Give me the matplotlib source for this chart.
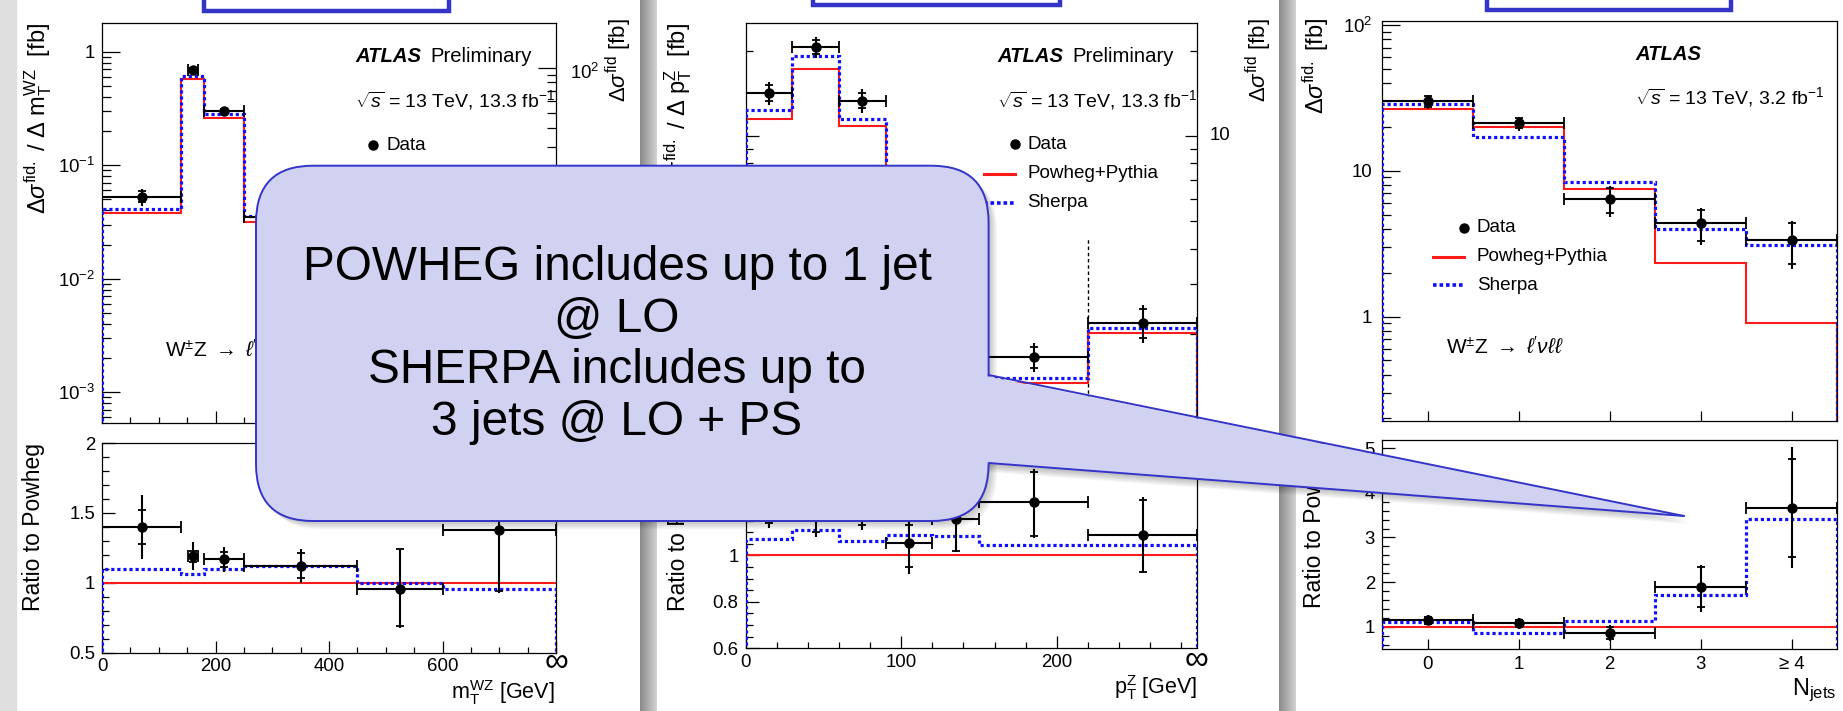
import numpy as np
import matplotlib
matplotlib.use("Agg")
import matplotlib.pyplot as plt
from matplotlib.patches import FancyBboxPatch, Polygon, Rectangle
from matplotlib.colors import LinearSegmentedColormap
from matplotlib.ticker import MultipleLocator, FixedLocator, FixedFormatter, NullFormatter, LogLocator

plt.rcParams['font.family'] = ['Liberation Sans', 'DejaVu Sans']
plt.rcParams['mathtext.fontset'] = 'custom'
plt.rcParams['mathtext.rm'] = 'Liberation Sans'
plt.rcParams['mathtext.it'] = 'Liberation Sans:italic'
plt.rcParams['mathtext.bf'] = 'Liberation Sans:bold'

#-------------------------------------------------------------------------------
# DATA : m_T^WZ
mt_edges = [0, 140, 180, 250, 450, 600, 800]
mt_x = [70, 160, 215, 350, 525, 700]
mt_xerr = [70, 9, 35, 100, 75, 100]
mt_data = [0.0528, 0.690, 0.300, 0.0352, 0.0059, 0.00124]
mt_data_hi = [0.0615, 0.738, 0.325, 0.0390, 0.0073, 0.0016]
mt_data_lo = [0.0440, 0.647, 0.278, 0.0316, 0.0041, 0.0008]
mt_stat_hi = [0.0590, 0.720, 0.315, 0.0380, 0.0072, 0.0015]
mt_stat_lo = [0.0470, 0.660, 0.285, 0.0330, 0.0042, 0.0009]
mt_powheg = [0.0377, 0.578, 0.259, 0.0318, 0.0062, 0.0009]
mt_sherpa = [0.0415, 0.613, 0.283, 0.0356, 0.0062, 0.00086]
mt_ratio = [1.40, 1.19, 1.167, 1.12, 0.957, 1.376]
mt_ratio_hi = [1.626, 1.29, 1.253, 1.245, 1.245, 1.82]
mt_ratio_lo = [1.167, 1.09, 1.079, 0.996, 0.68, 0.93]
mt_rstat_hi = [1.52, 1.23, 1.22, 1.21, 1.24, 1.75]
mt_rstat_lo = [1.276, 1.15, 1.11, 1.035, 0.69, 0.94]
mt_ratio_sherpa = [1.10, 1.06, 1.10, 1.12, 1.0, 0.953]

# DATA : p_T^Z
pt_edges = [0, 30, 60, 90, 120, 150, 220, 290]
pt_x = [15, 45, 75, 105, 135, 185, 255]
pt_xerr = [15, 15, 15, 15, 15, 35, 35]
pt_data = [14.2, 20.6, 13.3, 5.8, 3.2, 1.66, 2.18]
pt_data_hi = [15.5, 22.4, 14.6, 6.55, 3.6, 1.86, 2.52]
pt_data_lo = [12.9, 18.8, 12.0, 5.06, 2.82, 1.47, 1.86]
pt_stat_hi = [15.1, 21.8, 14.2, 6.3, 3.5, 1.80, 2.45]
pt_stat_lo = [13.3, 19.4, 12.5, 5.5, 2.9, 1.52, 1.93]
pt_powheg = [11.5, 17.2, 10.8, 5.5, 2.8, 1.34, 2.01]
pt_sherpa = [12.3, 19.1, 11.5, 5.97, 3.03, 1.40, 2.10]
pt_ratio = [1.235, 1.198, 1.232, 1.052, 1.155, 1.23, 1.09]
pt_ratio_hi = [1.36, 1.31, 1.35, 1.19, 1.29, 1.37, 1.25]
pt_ratio_lo = [1.12, 1.08, 1.11, 0.918, 1.014, 1.076, 0.925]
pt_rstat_hi = [1.33, 1.28, 1.32, 1.13, 1.26, 1.36, 1.24]
pt_rstat_lo = [1.14, 1.10, 1.13, 0.951, 1.02, 1.085, 0.93]
pt_ratio_sherpa = [1.072, 1.109, 1.062, 1.086, 1.083, 1.045, 1.045]
pt_overflow_line = 4.36

# DATA : N_jets
nj_edges = [-0.5, 0.5, 1.5, 2.5, 3.5, 4.5]
nj_x = [0, 1, 2, 3, 4]
nj_xerr = [0.5, 0.5, 0.5, 0.5, 0.5]
nj_labels = ['0', '1', '2', '3', '≥ 4']
nj_data = [30.1, 21.4, 6.4, 4.4, 3.36]
nj_data_hi = [33.3, 23.5, 7.87, 5.56, 4.5]
nj_data_lo = [26.7, 18.8, 4.8, 3.08, 2.11]
nj_stat_hi = [32.5, 23.0, 7.6, 5.4, 4.35]
nj_stat_lo = [27.5, 19.6, 5.1, 3.3, 2.3]
nj_powheg = [26.4, 19.9, 7.47, 2.32, 0.90]
nj_sherpa = [28.9, 17.1, 8.34, 3.97, 3.08]
nj_ratio = [1.14, 1.075, 0.86, 1.88, 3.67]
nj_ratio_hi = [1.26, 1.19, 1.04, 2.39, 5.03]
nj_ratio_lo = [1.04, 0.95, 0.68, 1.34, 2.31]
nj_rstat_hi = [1.22, 1.15, 1.0, 2.33, 4.76]
nj_rstat_lo = [1.07, 0.99, 0.72, 1.45, 2.57]
nj_ratio_sherpa = [1.095, 0.86, 1.117, 1.71, 3.42]
#-------------------------------------------------------------------------------

W, H = 1843, 711
RED = '#ff1a1a'
BLUE = '#1010ff'
FRAME = '#3434c8'
TICK = 13.4


def rect(x0, y0, x1, y1):
    return [x0 / W, 1 - y1 / H, (x1 - x0) / W, (y1 - y0) / H]


def style(ax, ymaj=9.5, ymin=5, xmaj=8.5, xmin=4.3):
    for s in ax.spines.values():
        s.set_linewidth(0.9)
    ax.tick_params(axis='both', which='both', direction='in', labelsize=TICK,
                   width=0.9, top=False, right=False)
    ax.tick_params(axis='y', which='major', length=ymaj, pad=5)
    ax.tick_params(axis='y', which='minor', length=ymin)
    ax.tick_params(axis='x', which='major', length=xmaj, pad=4)
    ax.tick_params(axis='x', which='minor', length=xmin)
    ax.set_facecolor('none')


def models(ax, edges, powheg, sherpa, base):
    ax.stairs(powheg, edges, baseline=base, color=RED, lw=1.5, zorder=2)
    ax.stairs(sherpa, edges, baseline=base, color=BLUE, lw=2.3, ls=(0, (1, 0.9)), zorder=3)


def data(ax, x, xerr, y, lo, hi, slo, shi):
    x, y, lo, hi = map(np.asarray, (x, y, lo, hi))
    ax.errorbar(x, y, xerr=xerr, fmt='none', ecolor='k', elinewidth=1.5,
                capsize=4.5, capthick=1.3, zorder=4)
    ax.errorbar(x, y, yerr=[y - lo, hi - y], fmt='none', ecolor='k',
                elinewidth=1.5, capsize=0, zorder=4)
    ax.plot(x, slo, ls='none', marker='_', ms=6, mew=1.3, color='k', zorder=4)
    ax.plot(x, shi, ls='none', marker='_', ms=6, mew=1.3, color='k', zorder=4)
    ax.plot(x, y, ls='none', marker='o', ms=6.5, color='k', zorder=5)


fig = plt.figure(figsize=(W / 100, H / 100), dpi=100)

# slide background, panel separators and title frames
bg = fig.add_axes([0, 0, 1, 1], zorder=-1)
bg.axis('off')
sep = LinearSegmentedColormap.from_list('sep', ['#8a8a8a', '#d2d2d2'])
grad = np.linspace(0, 1, 64).reshape(1, -1)
for x0, x1 in [(640, 657), (1279, 1296)]:
    bg.imshow(grad, extent=[x0, x1, H, 0], cmap=sep, aspect='auto', zorder=0)
bg.add_patch(Rectangle((0, 0), 16, H, color='#dedede', zorder=0))
for x0, w, h in [(204, 245, 41.3), (813, 247, 35.3), (1486.5, 244, 39.7)]:
    bg.add_patch(Rectangle((x0, -30), w, h, fill=False, ec=FRAME, lw=3.2, zorder=1))
bg.set_xlim(0, W)
bg.set_ylim(H, 0)


def legend(x_marker, y0, dy=29.3):
    bg.plot([x_marker], [y0], marker='o', ms=6.5, color='k')
    bg.plot([x_marker - 31, x_marker], [y0 + dy, y0 + dy], color=RED, lw=2.2)
    bg.plot([x_marker - 31, x_marker], [y0 + 2 * dy, y0 + 2 * dy], color=BLUE, lw=2.6,
            ls=(0, (1, 0.8)))
    for i, lab in enumerate(['Data', 'Powheg+Pythia', 'Sherpa']):
        bg.text(x_marker + 13, y0 + i * dy, lab, fontsize=13.6, va='center', ha='left')


def atlas(x, y, extra, lumi):
    bg.text(x, y, 'ATLAS', fontsize=14.6, fontweight='bold', fontstyle='italic',
            va='center', ha='left')
    if extra:
        bg.text(x + 75, y, extra, fontsize=14.6, va='center', ha='left')
    bg.text(x, y + 43, r'$\sqrt{s}$ = 13 TeV, ' + lumi + r' fb$^{-1}$', fontsize=14,
            va='center', ha='left')


#-------------------------------------------------------------------------------
# PANEL 1 : m_T^WZ
a1 = fig.add_axes(rect(102, 22.7, 556, 423))
style(a1, ymaj=13, ymin=6.5)
a1.set_yscale('log')
models(a1, mt_edges, mt_powheg, mt_sherpa, 1e-7)
data(a1, mt_x, mt_xerr, mt_data, mt_data_lo, mt_data_hi, mt_stat_lo, mt_stat_hi)
a1.set_xlim(0, 800)
a1.set_ylim(5.35e-4, 1.80)
a1.yaxis.set_major_locator(FixedLocator([1e-3, 1e-2, 1e-1, 1]))
a1.yaxis.set_major_formatter(FixedFormatter([r'$10^{-3}$', r'$10^{-2}$', r'$10^{-1}$', '1']))
a1.yaxis.set_minor_locator(LogLocator(base=10, subs=np.arange(2, 10)))
a1.yaxis.set_minor_formatter(NullFormatter())
a1.xaxis.set_major_locator(MultipleLocator(200))
a1.xaxis.set_minor_locator(MultipleLocator(50))
a1.tick_params(axis='x', labelbottom=False)

a1r = a1.twinx()
a1r.set_yscale('log')
a1r.set_ylim(0.4436, 198.6)
a1r.tick_params(axis='y', which='both', direction='in', width=0.9, labelright=False)
a1r.tick_params(axis='y', which='major', length=13)
a1r.tick_params(axis='y', which='minor', length=6.5)
a1r.yaxis.set_minor_formatter(NullFormatter())
for s in a1r.spines.values():
    s.set_visible(False)
a1r.set_facecolor('none')

r1 = fig.add_axes(rect(102, 443, 556, 652.7))
style(r1)
r1.axhline(1, color=RED, lw=1.5, zorder=2)
r1.stairs(mt_ratio_sherpa, mt_edges, baseline=0, color=BLUE, lw=2.3, ls=(0, (1, 0.9)), zorder=3)
data(r1, mt_x, mt_xerr, mt_ratio, mt_ratio_lo, mt_ratio_hi, mt_rstat_lo, mt_rstat_hi)
r1.set_xlim(0, 800)
r1.set_ylim(0.5, 2)
r1.yaxis.set_major_locator(FixedLocator([0.5, 1, 1.5, 2]))
r1.yaxis.set_major_formatter(FixedFormatter(['0.5', '1', '1.5', '2']))
r1.yaxis.set_minor_locator(MultipleLocator(0.1))
r1.xaxis.set_major_locator(FixedLocator([0, 200, 400, 600, 800]))
r1.xaxis.set_major_formatter(FixedFormatter(['0', '200', '400', '600', '']))
r1.xaxis.set_minor_locator(MultipleLocator(50))

bg.text(38, 22.7, r'$\Delta\sigma^{\mathrm{fid.}}$ / $\Delta$ m$_{\mathrm{T}}^{\mathrm{WZ}}$  [fb]',
        rotation=90, fontsize=17, ha='center', va='top')
bg.text(34, 443, 'Ratio to Powheg', rotation=90, fontsize=16.5, ha='center', va='top')
bg.text(557, 663, '∞', fontsize=24, ha='center', va='center')
bg.text(555, 693, r'm$_{\mathrm{T}}^{\mathrm{WZ}}$ [GeV]', fontsize=15.5, ha='right', va='center')
atlas(355, 57, 'Preliminary', '13.3')
legend(373, 145)
bg.text(165, 350, r'W$^{\pm}$Z $\rightarrow$ $\ell$$^{\prime}$$\nu\ell\ell$', fontsize=15,
        ha='left', va='center')
bg.text(570, 72.6, r'10$^{2}$', fontsize=TICK, ha='left', va='center')
bg.text(619, 18, r'$\Delta\sigma^{\mathrm{fid}}$ [fb]', rotation=90, fontsize=16,
        ha='center', va='top')

#-------------------------------------------------------------------------------
# PANEL 2 : p_T^Z
a2 = fig.add_axes(rect(745.5, 22.7, 1197, 423))
style(a2, ymaj=9, ymin=5)
a2.set_yscale('log')
models(a2, pt_edges, pt_powheg, pt_sherpa, 1e-4)
data(a2, pt_x, pt_xerr, pt_data, pt_data_lo, pt_data_hi, pt_stat_lo, pt_stat_hi)
a2.vlines(pt_edges[-2], 1e-4, pt_overflow_line, colors='k', lw=1, linestyles=(0, (2.5, 2)), zorder=1)
a2.set_xlim(0, 290)
a2.set_ylim(0.968, 25.1)
a2.tick_params(axis='y', which='both', right=True, labelleft=False)
a2.yaxis.set_minor_formatter(NullFormatter())
a2.xaxis.set_major_locator(MultipleLocator(100))
a2.xaxis.set_minor_locator(MultipleLocator(20))
a2.tick_params(axis='x', labelbottom=False)

r2 = fig.add_axes(rect(745.5, 443, 1197, 648.3))
style(r2)
r2.axhline(1, color=RED, lw=1.5, zorder=2)
r2.stairs(pt_ratio_sherpa, pt_edges, baseline=0, color=BLUE, lw=2.3, ls=(0, (1, 0.9)), zorder=3)
data(r2, pt_x, pt_xerr, pt_ratio, pt_ratio_lo, pt_ratio_hi, pt_rstat_lo, pt_rstat_hi)
r2.set_xlim(0, 290)
r2.set_ylim(0.6, 1.484)
r2.yaxis.set_major_locator(FixedLocator([0.6, 0.8, 1, 1.2, 1.4]))
r2.yaxis.set_major_formatter(FixedFormatter(['0.6', '0.8', '1', '1.2', '1.4']))
r2.yaxis.set_minor_locator(MultipleLocator(0.05))
r2.xaxis.set_major_locator(FixedLocator([0, 100, 200]))
r2.xaxis.set_major_formatter(FixedFormatter(['0', '100', '200']))
r2.xaxis.set_minor_locator(MultipleLocator(20))

bg.text(678, 22.7, r'$\Delta\sigma^{\mathrm{fid.}}$ / $\Delta$ p$_{\mathrm{T}}^{\mathrm{Z}}$  [fb]',
        rotation=90, fontsize=17, ha='center', va='top')
bg.text(678, 443, 'Ratio to Powheg', rotation=90, fontsize=16.5, ha='center', va='top')
bg.text(1197, 661, '∞', fontsize=24, ha='center', va='center')
bg.text(1197, 688, r'p$_{\mathrm{T}}^{\mathrm{Z}}$ [GeV]', fontsize=15.5, ha='right', va='center')
atlas(997, 57, 'Preliminary', '13.3')
legend(1014.6, 144.3)
bg.text(1210, 136, '10', fontsize=TICK, ha='left', va='center')
bg.text(1259, 18, r'$\Delta\sigma^{\mathrm{fid}}$ [fb]', rotation=90, fontsize=16,
        ha='center', va='top')

#-------------------------------------------------------------------------------
# PANEL 3 : N_jets
a3 = fig.add_axes(rect(1382, 20.7, 1837, 420.7))
style(a3, ymaj=13, ymin=6.5, xmaj=7.5)
a3.set_yscale('log')
models(a3, nj_edges, nj_powheg, nj_sherpa, 1e-3)
data(a3, nj_x, nj_xerr, nj_data, nj_data_lo, nj_data_hi, nj_stat_lo, nj_stat_hi)
a3.set_xlim(-0.5, 4.5)
a3.set_ylim(0.193, 107)
a3.yaxis.set_major_locator(FixedLocator([1, 10, 100]))
a3.yaxis.set_major_formatter(FixedFormatter(['1', '10', r'10$^{2}$']))
a3.yaxis.set_minor_locator(LogLocator(base=10, subs=np.arange(2, 10)))
a3.yaxis.set_minor_formatter(NullFormatter())
a3.tick_params(axis='y', which='major', pad=7)
a3.xaxis.set_major_locator(FixedLocator(nj_x))
a3.xaxis.set_minor_locator(FixedLocator([]))
a3.tick_params(axis='x', labelbottom=False)

r3 = fig.add_axes(rect(1382, 440, 1837, 649))
style(r3, xmaj=7.5)
r3.axhline(1, color=RED, lw=1.5, zorder=2)
r3.stairs(nj_ratio_sherpa, nj_edges, baseline=0, color=BLUE, lw=2.3, ls=(0, (1, 0.9)), zorder=3)
data(r3, nj_x, nj_xerr, nj_ratio, nj_ratio_lo, nj_ratio_hi, nj_rstat_lo, nj_rstat_hi)
r3.set_xlim(-0.5, 4.5)
r3.set_ylim(0.5, 5.186)
r3.yaxis.set_major_locator(FixedLocator([1, 2, 3, 4, 5]))
r3.yaxis.set_major_formatter(FixedFormatter(['1', '2', '3', '4', '5']))
r3.yaxis.set_minor_locator(MultipleLocator(0.2))
r3.xaxis.set_major_locator(FixedLocator(nj_x))
r3.xaxis.set_major_formatter(FixedFormatter(nj_labels))
r3.xaxis.set_minor_locator(FixedLocator([]))
r3.tick_params(axis='x', pad=5)

bg.text(1316, 18, r'$\Delta\sigma^{\mathrm{fid.}}$ [fb]', rotation=90, fontsize=17,
        ha='center', va='top')
bg.text(1315, 440, 'Ratio to Powheg', rotation=90, fontsize=16.5, ha='center', va='top')
bg.text(1836, 690, r'N$_{\mathrm{jets}}$', fontsize=17, ha='right', va='center')
atlas(1635, 54, None, '3.2')
legend(1464, 228, dy=28.5)
bg.text(1446, 347, r'W$^{\pm}$Z $\rightarrow$ $\ell$$^{\prime}$$\nu\ell\ell$', fontsize=15,
        ha='left', va='center')

#-------------------------------------------------------------------------------
# CALLOUT
ov = fig.add_axes([0, 0, 1, 1], zorder=10)
ov.axis('off')
ov.set_xlim(0, W)
ov.set_ylim(H, 0)

bx0, by0, bx1, by1, rad = 256, 165.7, 988.6, 521, 57
tip = (1684, 516)
jt, jb = 375, 463
fill = '#d1d2f2'

for k in range(1, 8):
    off = 1.2 * k
    ov.add_patch(FancyBboxPatch((bx0 + off, by0 + off), bx1 - bx0, by1 - by0,
                                boxstyle='round,pad=0,rounding_size=%g' % rad,
                                fc='k', ec='none', alpha=0.035, zorder=1))
    ov.add_patch(Polygon([(bx1 - 20 + off, jt + off), (tip[0] + off, tip[1] + off),
                          (bx1 - 20 + off, jb + off)], closed=True, fc='k', ec='none',
                         alpha=0.035, zorder=1))

ov.add_patch(FancyBboxPatch((bx0, by0), bx1 - bx0, by1 - by0,
                            boxstyle='round,pad=0,rounding_size=%g' % rad,
                            fc=fill, ec=FRAME, lw=1.4, zorder=2))
ov.add_patch(Polygon([(bx1 - 8, jt), tip, (bx1 - 8, jb)], closed=True, fc=fill, ec='none',
                     zorder=3))
ov.plot([bx1, tip[0]], [jt, tip[1]], color=FRAME, lw=1.4, zorder=4, solid_capstyle='round')
ov.plot([bx1, tip[0]], [jb, tip[1]], color=FRAME, lw=1.4, zorder=4, solid_capstyle='round')

ov.text(617, 345, 'POWHEG includes up to 1 jet\n@ LO\nSHERPA includes up to\n3 jets @ LO + PS',
        fontsize=34.4, ha='center', va='center', multialignment='center', linespacing=1.19,
        zorder=5)

fig.savefig('out.png', dpi=100)
